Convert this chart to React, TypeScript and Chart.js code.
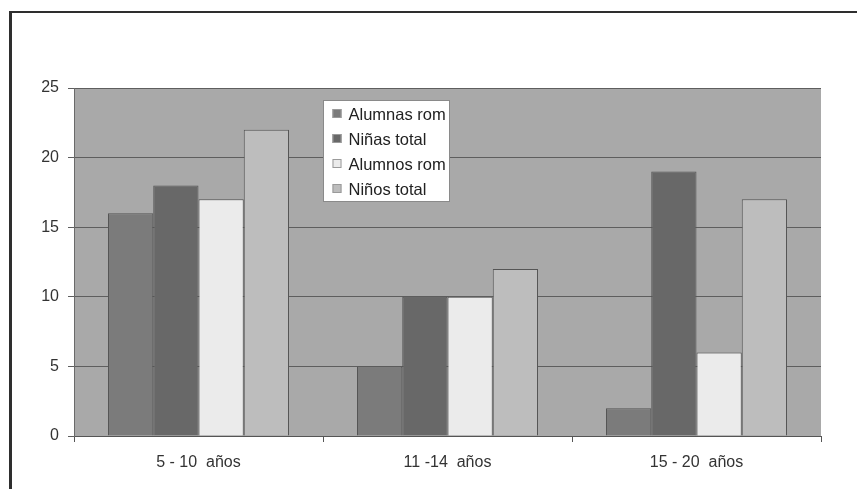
import React, { useEffect, useRef } from "react";
import { Chart, registerables } from "chart.js";

Chart.register(...registerables);

const categories = ["5 - 10  años", "11 -14  años", "15 - 20  años"];
const seriesLabels = ["Alumnas rom", "Niñas total", "Alumnos rom", "Niños total"];
const alumnasRom = [16, 5, 2];
const ninasTotal = [18, 10, 19];
const alumnosRom = [17, 10, 6];
const ninosTotal = [22, 12, 17];
const seriesColors = ["#7b7b7b", "#686868", "#ebebeb", "#bdbdbd"];
const yTicks = [0, 5, 10, 15, 20, 25];

const FONT = "'Liberation Sans', Arial, sans-serif";

const decorPlugin = {
  id: "decor",
  beforeDraw(chart: any) {
    const { ctx, chartArea } = chart;
    ctx.save();
    ctx.fillStyle = "#ffffff";
    ctx.fillRect(0, 0, chart.width, chart.height);
    ctx.fillStyle = "#a9a9a9";
    ctx.fillRect(chartArea.left, chartArea.top, chartArea.right - chartArea.left, chartArea.bottom - chartArea.top);
    ctx.restore();
  },
  afterDraw(chart: any) {
    const { ctx, chartArea } = chart;
    ctx.save();
    // frame lines (top and left)
    ctx.strokeStyle = "#2e2e2e";
    ctx.lineWidth = 2;
    ctx.beginPath();
    ctx.moveTo(9, 12);
    ctx.lineTo(chart.width, 12);
    ctx.stroke();
    ctx.lineWidth = 3;
    ctx.beginPath();
    ctx.moveTo(10.5, 11);
    ctx.lineTo(10.5, chart.height);
    ctx.stroke();

    // legend box
    const bx = chartArea.left + 249.5;
    const by = chartArea.top + 12.5;
    const bw = 126;
    const bh = 101;
    ctx.fillStyle = "#ffffff";
    ctx.fillRect(bx, by, bw, bh);
    ctx.strokeStyle = "#8a8a8a";
    ctx.lineWidth = 1;
    ctx.strokeRect(bx, by, bw, bh);
    ctx.font = "16.5px " + FONT;
    ctx.textBaseline = "middle";
    chart.data.datasets.forEach((ds: any, i: number) => {
      const cy = by + 13.5 + i * 25;
      ctx.fillStyle = ds.backgroundColor;
      ctx.fillRect(bx + 9, cy - 5, 9, 9);
      ctx.strokeStyle = "#9a9a9a";
      ctx.strokeRect(bx + 9.5, cy - 4.5, 8, 8);
      ctx.fillStyle = "#222222";
      ctx.fillText(ds.label, bx + 25, cy + 1);
    });
    ctx.restore();
  },
};

export default function App() {
  const ref = useRef<HTMLCanvasElement>(null);

  useEffect(() => {
    if (!ref.current) return;
    const values = [alumnasRom, ninasTotal, alumnosRom, ninosTotal];
    const chart = new Chart(ref.current, {
      type: "bar",
      data: {
        labels: categories,
        datasets: seriesLabels.map((label, i) => ({
          label,
          data: values[i],
          backgroundColor: seriesColors[i],
          borderColor: "#555555",
          borderWidth: 1,
          categoryPercentage: 0.727,
          barPercentage: 1,
        })),
      },
      options: {
        animation: false,
        responsive: false,
        devicePixelRatio: 1,
        layout: { padding: { top: 88, right: 36, bottom: 0, left: 12 } },
        plugins: {
          legend: { display: false },
          tooltip: { enabled: false },
          title: { display: false },
        },
        scales: {
          x: {
            grid: {
              offset: true,
              drawOnChartArea: false,
              drawTicks: true,
              tickLength: 6,
              color: "#555555",
            },
            border: { color: "#555555", width: 1 },
            ticks: {
              color: "#333333",
              font: { family: FONT, size: 16 },
              padding: 11,
            },
            afterFit(scale: any) {
              scale.height = 53;
            },
          },
          y: {
            min: 0,
            max: 25,
            afterBuildTicks(scale: any) {
              scale.ticks = yTicks.map((v) => ({ value: v }));
            },
            grid: {
              color: "#5e5e5e",
              lineWidth: 1,
              tickLength: 6,
              drawTicks: true,
            },
            border: { color: "#6a6a6a", width: 1 },
            ticks: {
              color: "#333333",
              font: { family: FONT, size: 16 },
              padding: 9,
            },
            afterFit(scale: any) {
              scale.width = 62;
            },
          },
        },
      },
      plugins: [decorPlugin],
    });
    return () => chart.destroy();
  }, []);

  return (
    <div style={{ position: "absolute", left: 0, top: 0, width: 857, height: 489 }}>
      <canvas ref={ref} width={857} height={489} style={{ width: 857, height: 489, display: "block" }} />
    </div>
  );
}
